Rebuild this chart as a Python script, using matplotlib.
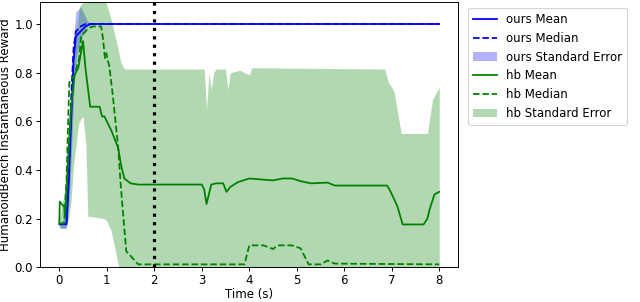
import matplotlib
matplotlib.use("Agg")
import matplotlib.pyplot as plt

# ours (blue)
ours_t = [0, 0.15, 0.2, 0.25, 0.3, 0.35, 0.45, 0.55, 0.65, 1.0, 2.0, 3.0, 4.0, 5.0, 6.0, 7.0, 8.0]
ours_mean = [0.177, 0.177, 0.35, 0.6, 0.85, 0.95, 0.97, 0.99, 1.0, 1.0, 1.0, 1.0, 1.0, 1.0, 1.0, 1.0, 1.0]
ours_median = [0.177, 0.177, 0.4, 0.7, 0.9, 0.97, 0.99, 1.0, 1.0, 1.0, 1.0, 1.0, 1.0, 1.0, 1.0, 1.0, 1.0]

ours_band_t = [0.0, 0.05, 0.1, 0.15, 0.2, 0.25, 0.3, 0.35, 0.4, 0.45, 0.5, 0.55, 0.6, 0.65, 0.7, 8.0]
ours_upper = [0.18, 0.19, 0.2, 0.25, 0.5, 0.75, 0.95, 1.05, 1.06, 1.07, 1.05, 1.03, 1.01, 1.005, 1.0, 1.0]
ours_lower = [0.17, 0.16, 0.16, 0.16, 0.25, 0.45, 0.7, 0.85, 0.9, 0.93, 0.96, 0.98, 0.99, 0.995, 1.0, 1.0]

# hb (green)
hb_mean_t = [0, 0.01, 0.05, 0.1, 0.12, 0.15, 0.2, 0.25, 0.32, 0.4, 0.5, 0.55, 0.65, 0.75,
             0.85, 0.9, 0.95, 1.0, 1.1, 1.24, 1.3, 1.37, 1.5, 1.66, 3.0, 3.05, 3.1, 3.15,
             3.2, 3.3, 3.45, 3.52, 3.6, 3.76, 4.0, 4.5, 4.7, 4.9, 5.08, 5.3, 5.65, 5.8,
             6.9, 6.96, 7.05, 7.12, 7.23, 7.67, 7.75, 7.8, 7.9, 8.0]
hb_mean = [0.18, 0.27, 0.26, 0.25, 0.21, 0.3, 0.5, 0.66, 0.79, 0.82, 0.93, 0.82, 0.66, 0.66,
           0.66, 0.62, 0.62, 0.6, 0.56, 0.49, 0.42, 0.365, 0.345, 0.34, 0.34, 0.32, 0.26, 0.3,
           0.34, 0.345, 0.345, 0.31, 0.33, 0.35, 0.365, 0.357, 0.365, 0.365, 0.354, 0.345, 0.348, 0.336,
           0.336, 0.317, 0.28, 0.25, 0.176, 0.176, 0.2, 0.24, 0.30, 0.31]

hb_median_t = [0, 0.1, 0.15, 0.21, 0.32, 0.42, 0.46, 0.6, 0.7, 0.88, 0.92, 0.96, 0.99, 1.02,
               1.05, 1.13, 1.24, 1.3, 1.41, 1.51, 1.66, 3.9, 4.0, 4.3, 4.5, 4.6, 4.9, 5.08,
               5.25, 5.5, 5.65, 5.8, 8.0]
hb_median = [0.18, 0.18, 0.35, 0.76, 0.79, 0.86, 0.95, 0.98, 0.99, 0.99, 0.94, 0.86, 0.88, 0.85,
             0.83, 0.70, 0.49, 0.32, 0.065, 0.045, 0.012, 0.012, 0.09, 0.09, 0.075, 0.09, 0.09, 0.078,
             0.012, 0.012, 0.028, 0.015, 0.012]

hb_band_t = [0, 0.1, 0.15, 0.2, 0.25, 0.3, 0.4, 0.42, 0.5, 0.56, 0.6, 0.95, 1.0, 1.09, 1.2,
             1.3, 1.37, 3.05, 3.1, 3.15, 3.2, 3.25, 3.3, 3.5, 3.55, 3.6, 3.8, 4.0, 4.05, 4.2,
             6.85, 6.93, 7.0, 7.05, 7.2, 7.75, 7.86, 8.0]
hb_upper = [0.2, 0.3, 0.4, 0.5, 0.68, 0.85, 1.03, 1.07, 1.09, 1.1, 1.1, 1.1, 1.08, 1.02, 0.93,
            0.84, 0.815, 0.815, 0.65, 0.8, 0.73, 0.8, 0.815, 0.815, 0.73, 0.8, 0.81, 0.79, 0.82, 0.82,
            0.815, 0.76, 0.74, 0.72, 0.55, 0.55, 0.69, 0.74]
hb_lower = [0.16, 0.16, 0.17, 0.2, 0.28, 0.42, 0.58, 0.6, 0.62, 0.5, 0.21, 0.2, 0.19, 0.15, 0.05,
            -0.05, -0.05, -0.05, -0.05, -0.05, -0.05, -0.05, -0.05, -0.05, -0.05, -0.05, -0.05, -0.05, -0.05, -0.05,
            -0.05, -0.05, -0.05, -0.05, -0.05, -0.05, -0.05, -0.05]

# original looks like a bigger figure scaled down, so render at a lower dpi
fig, ax = plt.subplots(figsize=(640 / 85, 302 / 85), dpi=85)

ax.plot(ours_t, ours_mean, color="blue", label="ours Mean")
ax.plot(ours_t, ours_median, color="blue", linestyle="--", label="ours Median")
ax.fill_between(ours_band_t, ours_lower, ours_upper, color="blue", alpha=0.3,
                linewidth=0, label="ours Standard Error")
ax.plot(hb_mean_t, hb_mean, color="green", label="hb Mean")
ax.plot(hb_median_t, hb_median, color="green", linestyle="--", label="hb Median")
ax.fill_between(hb_band_t, hb_lower, hb_upper, color="green", alpha=0.3,
                linewidth=0, label="hb Standard Error")

ax.axvline(2, color="black", linestyle=":", linewidth=2.7)

ax.set_xlim(-0.4, 8.4)
ax.set_ylim(0, 1.09)
ax.tick_params(pad=2.5)
ax.set_xlabel("Time (s)", labelpad=0.5)
ax.set_ylabel("HumanoidBench Instantaneous Reward", labelpad=2)
ax.legend(loc="upper left", bbox_to_anchor=(1.01, 1.0))

fig.subplots_adjust(left=0.063, right=0.716, bottom=0.115, top=0.993)
fig.savefig("out.png")
